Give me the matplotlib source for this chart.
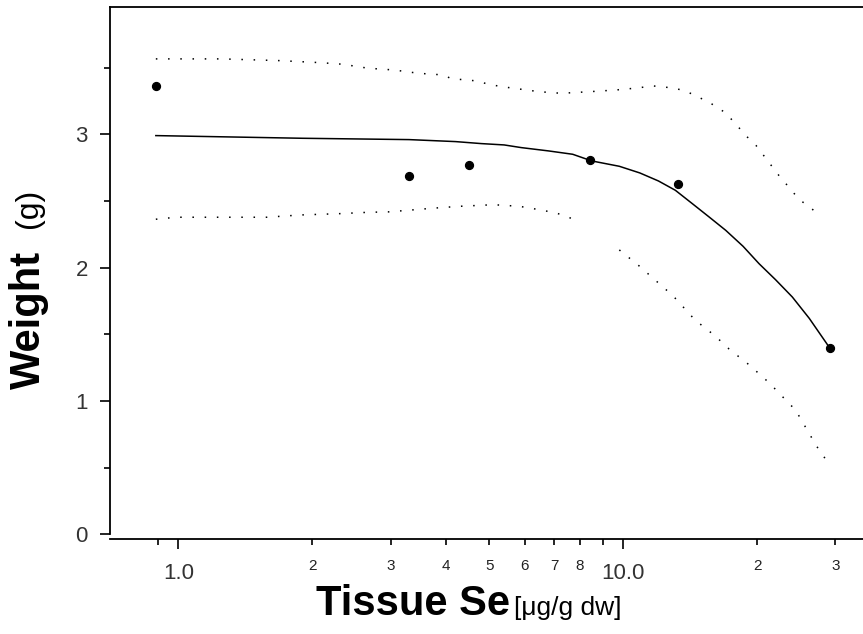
import matplotlib
matplotlib.use("Agg")
import matplotlib.pyplot as plt
from matplotlib.ticker import FixedLocator, NullFormatter

plt.rcParams['font.family'] = ['Liberation Sans', 'DejaVu Sans']

# measured points
se = [0.89, 3.3, 4.5, 8.4, 13.3, 29.2]
weight = [3.36, 2.69, 2.77, 2.81, 2.63, 1.40]

# fitted curve
fit_x = [0.89, 1.9, 3.3, 4.2, 4.8, 5.4, 5.9, 6.8, 7.7, 8.5, 9.8, 10.9, 12.0,
         13.1, 14.3, 15.6, 17.0, 18.6, 20.2, 22.0, 24.0, 26.2, 29.1]
fit_y = [2.99, 2.97, 2.96, 2.945, 2.93, 2.92, 2.90, 2.875, 2.85, 2.80, 2.76,
         2.71, 2.65, 2.58, 2.48, 2.38, 2.28, 2.16, 2.03, 1.91, 1.78, 1.62, 1.40]

# upper confidence band
up_x = [0.89, 1.25, 1.69, 2.08, 2.34, 2.67, 3.05, 3.47, 3.93, 4.11, 4.68, 4.98,
        5.33, 5.67, 6.48, 7.26, 8.39, 9.64, 10.6, 11.7, 12.95, 13.8, 15.6,
        17.0, 19.0, 19.9, 22.4, 23.9, 24.8, 27.8]
up_y = [3.565, 3.565, 3.552, 3.537, 3.525, 3.495, 3.482, 3.457, 3.445, 3.417,
        3.40, 3.375, 3.357, 3.345, 3.319, 3.307, 3.319, 3.332, 3.345, 3.362,
        3.347, 3.325, 3.24, 3.16, 2.98, 2.915, 2.69, 2.58, 2.515, 2.39]

# lower confidence band (two pieces)
lo1_x = [0.89, 0.99, 1.58, 1.88, 2.31, 2.67, 2.96, 3.28, 3.71, 4.29, 5.11,
         5.84, 6.44, 7.07, 7.64]
lo1_y = [2.363, 2.378, 2.378, 2.395, 2.405, 2.415, 2.418, 2.43, 2.445, 2.46,
         2.472, 2.46, 2.436, 2.41, 2.37]
lo2_x = [9.8, 10.86, 12.95, 14.5, 16.1, 17.3, 19.2, 21.3, 23.3, 24.4, 27.2, 28.8]
lo2_y = [2.133, 2.013, 1.788, 1.608, 1.488, 1.39, 1.271, 1.136, 1.001, 0.933,
         0.663, 0.543]

fig = plt.figure(figsize=(8.63, 6.34), dpi=100)
ax = fig.add_axes([110 / 863, 95 / 634, 753 / 863, 532 / 634])

ax.plot(fit_x, fit_y, color='black', lw=1.1)
dots = (0, (1, 7))
ax.plot(up_x, up_y, color='black', lw=1.1, linestyle=dots)
ax.plot(lo1_x, lo1_y, color='black', lw=1.1, linestyle=dots)
ax.plot(lo2_x, lo2_y, color='black', lw=1.1, linestyle=dots)
ax.scatter(se, weight, s=32, color='black', zorder=3)

ax.set_xscale('log')
ax.set_xlim(0.702, 34.6)
ax.set_ylim(-0.034, 3.954)

ax.spines['right'].set_visible(False)
ax.spines['left'].set_bounds(0, 3.954)
for s in ['left', 'bottom', 'top']:
    ax.spines[s].set_linewidth(1.3)

ax.set_yticks([0, 1, 2, 3])
ax.set_yticks([0.5, 1.5, 2.5, 3.5], minor=True)
ax.tick_params(axis='y', which='major', length=7, width=1.2, pad=9,
               labelsize=16, labelcolor='#333333')
ax.tick_params(axis='y', which='minor', length=4, width=1.2)

ax.xaxis.set_major_locator(FixedLocator([1, 10]))
ax.set_xticklabels(['1.0', '10.0'])
minor_pos = [0.9, 2, 3, 4, 5, 6, 7, 8, 9, 20, 30]
ax.xaxis.set_minor_locator(FixedLocator(minor_pos))
ax.xaxis.set_minor_formatter(NullFormatter())
ax.tick_params(axis='x', which='major', length=7, width=1.2, pad=10,
               labelsize=16, labelcolor='#333333')
ax.tick_params(axis='x', which='minor', length=4, width=1.2)

# small labels at the minor ticks
minor_labels = {2: '2', 3: '3', 4: '4', 5: '5', 6: '6', 7: '7', 8: '8',
                20: '2', 30: '3'}
for pos, lab in minor_labels.items():
    ax.text(pos, -0.24, lab, ha='center', va='center', fontsize=11,
            color='#222222')

fig.text(413 / 863, 1 - 604 / 634, 'Tissue Se', ha='center', va='center',
         fontsize=30, fontweight='bold')
fig.text(514 / 863, 1 - 608 / 634, '[\u03bcg/g dw]', ha='left', va='center',
         fontsize=19)
fig.text(29 / 863, 1 - 320 / 634, 'Weight', ha='center', va='center',
         fontsize=30, fontweight='bold', rotation=90)
fig.text(29 / 863, 1 - 208 / 634, '(g)', ha='center', va='center',
         fontsize=23, rotation=90)

fig.savefig('out.png', dpi=100)
